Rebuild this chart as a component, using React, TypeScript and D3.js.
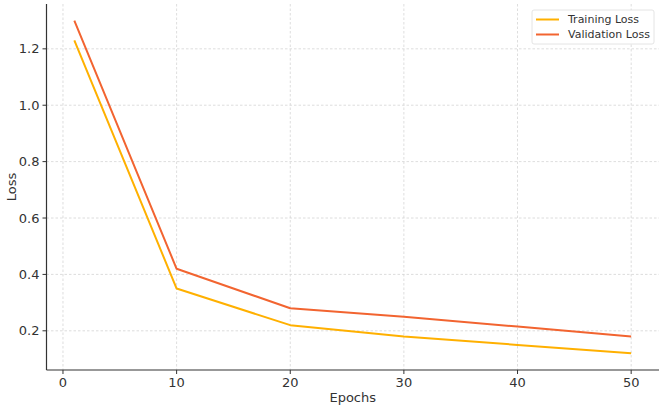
import React from "react";
import * as d3 from "d3";

const epochs = [1, 10, 20, 30, 40, 50];
const trainingLoss = [1.23, 0.35, 0.22, 0.18, 0.15, 0.12];
const validationLoss = [1.3, 0.42, 0.28, 0.25, 0.215, 0.18];
const xTicks = [0, 10, 20, 30, 40, 50];
const yTicks = [0.2, 0.4, 0.6, 0.8, 1.0, 1.2];
const seriesNames = ["Training Loss", "Validation Loss"];
const seriesColors = ["#FFB000", "#F26430"];

const W = 666, H = 410;
const M = { left: 46.5, right: 659, top: 4, bottom: 370 };

export default function App() {
  const x = d3.scaleLinear().domain([-1.45, 52.45]).range([M.left, M.right]);
  const y = d3.scaleLinear().domain([0.061, 1.359]).range([M.bottom, M.top]);
  const series = [trainingLoss, validationLoss];
  const line = (vals: number[]) =>
    d3.line<number>().x((_, i) => x(epochs[i])).y((v) => y(v))(vals) || "";
  const font = "DejaVu Sans, sans-serif";
  const tc = "#333";
  return (
    <svg width={W} height={H} style={{ position: "absolute", left: 0, top: 0, background: "#fff" }} fontFamily={font}>
      {/* grid */}
      {xTicks.map((t) => (
        <line key={"gx" + t} x1={x(t)} x2={x(t)} y1={M.top} y2={M.bottom} stroke="#d4d4d4" strokeWidth={0.8} strokeDasharray="2.5,2" />
      ))}
      {yTicks.map((t) => (
        <line key={"gy" + t} x1={M.left} x2={M.right} y1={y(t)} y2={y(t)} stroke="#d4d4d4" strokeWidth={0.8} strokeDasharray="2.5,2" />
      ))}
      {/* lines */}
      {series.map((s, i) => (
        <path key={i} d={line(s)} fill="none" stroke={seriesColors[i]} strokeWidth={2} strokeLinejoin="round" />
      ))}
      {/* axes */}
      <line x1={M.left} x2={M.left} y1={M.top} y2={M.bottom} stroke={tc} strokeWidth={1.2} />
      <line x1={M.left} x2={M.right} y1={M.bottom} y2={M.bottom} stroke={tc} strokeWidth={1.2} />
      {xTicks.map((t) => (
        <g key={"xt" + t}>
          <line x1={x(t)} x2={x(t)} y1={M.bottom} y2={M.bottom + 4} stroke={tc} strokeWidth={1} />
          <text x={x(t)} y={M.bottom + 17} textAnchor="middle" fontSize={13} fill={tc}>{t}</text>
        </g>
      ))}
      {yTicks.map((t) => (
        <g key={"yt" + t}>
          <line x1={M.left - 4} x2={M.left} y1={y(t)} y2={y(t)} stroke={tc} strokeWidth={1} />
          <text x={M.left - 7} y={y(t)} dy="0.35em" textAnchor="end" fontSize={13} fill={tc}>{t.toFixed(1)}</text>
        </g>
      ))}
      <text x={(M.left + M.right) / 2} y={402} textAnchor="middle" fontSize={13} fill={tc}>Epochs</text>
      <text transform={`translate(16,${(M.top + M.bottom) / 2}) rotate(-90)`} textAnchor="middle" fontSize={13} fill={tc}>Loss</text>
      {/* legend */}
      <rect x={532} y={10} width={122} height={34} rx={2} fill="#fff" fillOpacity={0.9} stroke="#ddd" strokeWidth={0.8} />
      {seriesNames.map((n, i) => (
        <g key={n}>
          <line x1={536} x2={559} y1={19.5 + i * 15} y2={19.5 + i * 15} stroke={seriesColors[i]} strokeWidth={2} />
          <text x={568} y={19.5 + i * 15} dy="0.35em" fontSize={11} fill={tc}>{n}</text>
        </g>
      ))}
    </svg>
  );
}
